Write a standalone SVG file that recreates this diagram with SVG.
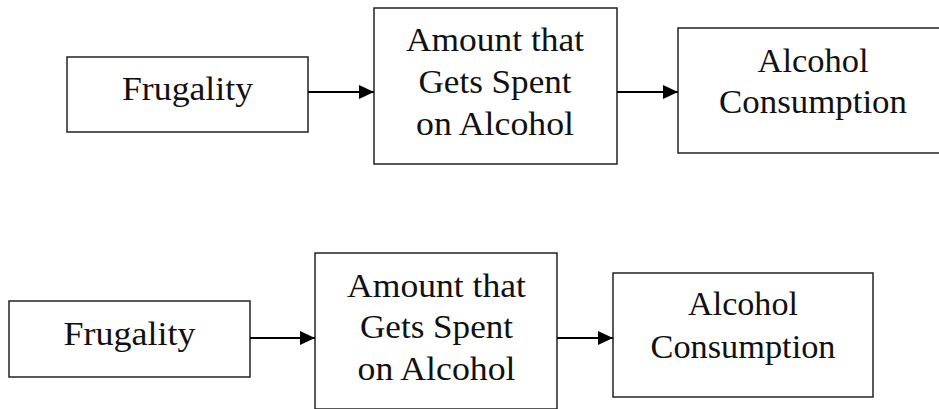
<svg xmlns="http://www.w3.org/2000/svg" width="939" height="409" viewBox="0 0 939 409">
<style>
.box{fill:#fff;stroke:#222;stroke-width:1.5}
text{font-family:"Liberation Serif","DejaVu Serif","Times New Roman",Times,serif;font-size:33px;fill:#111;text-anchor:middle}
.conn{stroke:#000;stroke-width:2.2;fill:none}
</style>
<defs>
<marker id="ah" markerUnits="userSpaceOnUse" markerWidth="15" markerHeight="14" refX="15" refY="7" orient="auto">
<path d="M0,0 L15,7 L0,14 z" fill="#000"/>
</marker>
</defs>
<rect width="939" height="409" fill="#fff"/>
<g id="frugality-1">
<rect class="box" x="67" y="57" width="241" height="75"/>
<text x="187.5" y="100" textLength="131" lengthAdjust="spacingAndGlyphs">Frugality</text>
</g>
<g id="amount-1">
<rect class="box" x="374" y="8" width="243" height="156"/>
<text x="495" y="51" textLength="178" lengthAdjust="spacingAndGlyphs">Amount that</text>
<text x="495" y="93" textLength="153" lengthAdjust="spacingAndGlyphs">Gets Spent</text>
<text x="495" y="135" textLength="158" lengthAdjust="spacingAndGlyphs">on Alcohol</text>
</g>
<g id="consumption-1">
<rect class="box" x="678" y="28" width="270" height="125"/>
<text x="813" y="72" textLength="111" lengthAdjust="spacingAndGlyphs">Alcohol</text>
<text x="813" y="113" textLength="188" lengthAdjust="spacingAndGlyphs">Consumption</text>
</g>
<g id="frugality-2">
<rect class="box" x="9" y="301" width="241" height="76"/>
<text x="129.5" y="345" textLength="132" lengthAdjust="spacingAndGlyphs">Frugality</text>
</g>
<g id="amount-2">
<rect class="box" x="315" y="253" width="242" height="156"/>
<text x="436.5" y="297" textLength="179" lengthAdjust="spacingAndGlyphs">Amount that</text>
<text x="436.5" y="338" textLength="153" lengthAdjust="spacingAndGlyphs">Gets Spent</text>
<text x="436.5" y="380" textLength="158" lengthAdjust="spacingAndGlyphs">on Alcohol</text>
</g>
<g id="consumption-2">
<rect class="box" x="613" y="273" width="260" height="124"/>
<text x="743" y="315" textLength="110" lengthAdjust="spacingAndGlyphs">Alcohol</text>
<text x="743" y="358" textLength="185" lengthAdjust="spacingAndGlyphs">Consumption</text>
</g>
<g id="connectors">
<line class="conn" x1="308" y1="92" x2="374" y2="92" marker-end="url(#ah)"/>
<line class="conn" x1="617" y1="92" x2="678" y2="92" marker-end="url(#ah)"/>
<line class="conn" x1="250" y1="338" x2="315" y2="338" marker-end="url(#ah)"/>
<line class="conn" x1="557" y1="338" x2="613" y2="338" marker-end="url(#ah)"/>
</g>
</svg>
